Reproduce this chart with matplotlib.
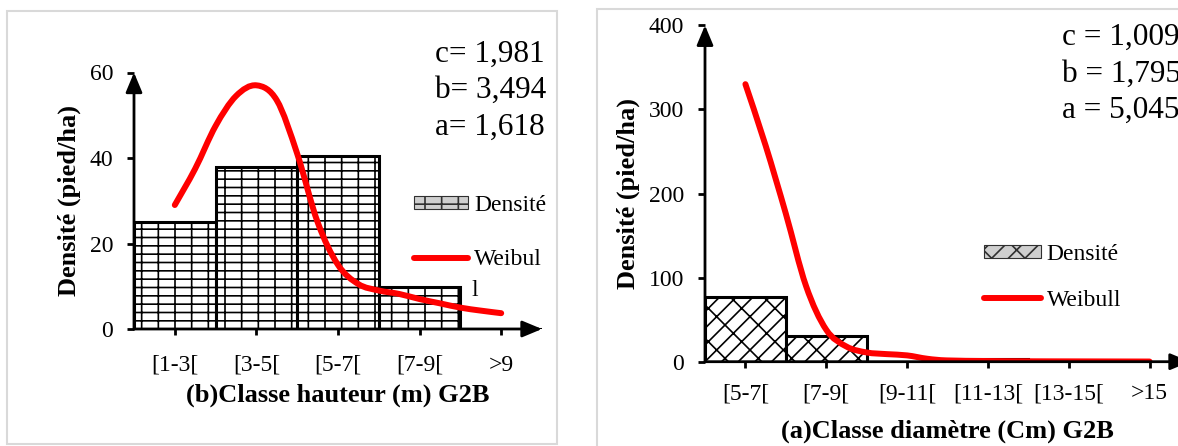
import matplotlib
matplotlib.use("Agg")
import matplotlib.pyplot as plt
import numpy as np
from matplotlib.path import Path
from matplotlib.patches import PathPatch, Rectangle, Patch
from matplotlib.lines import Line2D

# ---- data ----
# (b) height classes
hauteur_classes = ["[1-3[", "[3-5[", "[5-7[", "[7-9[", ">9"]
hauteur_densite = [25.0, 37.9, 40.4, 9.8, 0.0]
# Weibull curve (x in class positions)
hauteur_weibull_pos = [0, 0.25, 0.5, 0.75, 1.0, 1.25, 1.5, 1.75, 2.0, 2.25, 2.5, 2.75, 3.0, 3.25, 3.5, 3.75, 4.0]
hauteur_weibull_val = [29, 37.5, 47.5, 54.5, 57, 53.5, 41, 25, 15, 10.5, 9, 8.2, 7, 6, 5, 4.3, 3.7]
hauteur_params = ["c= 1,981", "b= 3,494", "a= 1,618"]

# (a) diameter classes
diametre_classes = ["[5-7[", "[7-9[", "[9-11[", "[11-13[", "[13-15[", ">15"]
diametre_densite = [77.3, 30.6, 0.0, 3.0, 0.0, 0.0]
diametre_weibull_pos = [0, 0.25, 0.5, 0.75, 1.0, 1.25, 1.5, 1.75, 2.0, 2.25, 2.5, 3.0, 3.5, 4.0, 4.5, 5.0]
diametre_weibull_val = [330, 257, 176, 90, 38, 18, 11, 9, 7.5, 3.5, 1.5, 0.8, 0.5, 0.4, 0.3, 0.2]
diametre_params = ["c = 1,009", "b = 1,795", "a = 5,045"]

W, H = 1178, 446
plt.rcParams["font.family"] = ["Liberation Serif", "DejaVu Serif"]
plt.rcParams["hatch.linewidth"] = 1.2

fig = plt.figure(figsize=(W / 100, H / 100), dpi=100)


def fx(x):
    return x / W


def fy(y):
    return 1 - y / H


def smooth_path(xs, ys):
    # Excel-like smoothed line (Catmull-Rom converted to cubic Bezier)
    pts = np.column_stack([xs, ys]).astype(float)
    verts = [pts[0]]
    codes = [Path.MOVETO]
    for i in range(len(pts) - 1):
        p0 = pts[i - 1] if i > 0 else pts[i]
        p1, p2 = pts[i], pts[i + 1]
        p3 = pts[i + 2] if i + 2 < len(pts) else pts[i + 1]
        verts += [p1 + (p2 - p0) / 6, p2 - (p3 - p1) / 6, p2]
        codes += [Path.CURVE4] * 3
    return Path(verts, codes)


def draw_panel(ax, classes, densite, wpos, wval, ymax, ystep, hatch, xlabel,
               xpad, ylpad, xlpad):
    x = np.arange(len(classes))
    ax.bar(x, densite, width=1.0, facecolor="white", edgecolor="black",
           linewidth=2.2, hatch=hatch, zorder=2)
    ax.add_patch(PathPatch(smooth_path(wpos, wval), fill=False, edgecolor="red",
                           linewidth=4.3, capstyle="round", zorder=3))
    ax.set_xlim(-0.5, len(classes) - 0.5)
    ax.set_ylim(0, ymax)
    ax.set_xticks(x)
    ax.set_xticklabels(classes)
    ax.set_yticks(np.arange(0, ymax + 1, ystep))
    for s in ax.spines.values():
        s.set_visible(False)
    ax.tick_params(axis="y", direction="out", length=5, width=2, pad=10, labelsize=17)
    ax.tick_params(axis="x", direction="out", length=4.5, width=2, pad=xpad, labelsize=17)
    arrow = dict(arrowstyle="-|>,head_length=1.2,head_width=0.5", lw=2, color="black",
                 shrinkA=0, shrinkB=0)
    ax.annotate("", xy=(0, 1), xytext=(0, 0), xycoords="axes fraction",
                arrowprops=arrow, annotation_clip=False)
    ax.annotate("", xy=(1, 0), xytext=(0, 0), xycoords="axes fraction",
                arrowprops=arrow, annotation_clip=False)
    ax.set_xlabel(xlabel, fontsize=19, fontweight="bold", labelpad=xlpad)
    ax.set_ylabel("Densité (pied/ha)", fontsize=19, fontweight="bold", labelpad=ylpad)
    ax.patch.set_alpha(0)


# panel frames
fig.patches.append(Rectangle((fx(7), fy(444)), fx(550), 433 / H, transform=fig.transFigure,
                             fill=False, edgecolor="#d9d9d9", linewidth=1.5))
fig.patches.append(Rectangle((fx(597), fy(449)), fx(590), 440 / H, transform=fig.transFigure,
                             fill=False, edgecolor="#d9d9d9", linewidth=1.5))

# (b) height panel
ax1 = fig.add_axes([fx(134), fy(329), fx(408), 256.5 / H])
draw_panel(ax1, hauteur_classes, hauteur_densite, hauteur_weibull_pos, hauteur_weibull_val,
           60, 20, "--|", "(b)Classe hauteur (m) G2B", 14, 6, 6)

# (a) diameter panel
ax2 = fig.add_axes([fx(705), fy(361.7), fx(485), 336.4 / H])
draw_panel(ax2, diametre_classes, diametre_densite, diametre_weibull_pos, diametre_weibull_val,
           400, 100, "//\\", "(a)Classe diamètre (Cm) G2B", 11, 6, 11)

# Weibull parameters
for txt, yb in zip(hauteur_params, [61.7, 98.3, 135]):
    fig.text(fx(435), fy(yb), txt, fontsize=22.5, va="baseline", ha="left")
for txt, yb in zip(diametre_params, [45, 81.7, 118.3]):
    fig.text(fx(1062), fy(yb), txt, fontsize=22.5, va="baseline", ha="left")

# legends
h_dens1 = Patch(facecolor="#cfcfcf", edgecolor="#303030", linewidth=0.8, hatch="--|")
h_dens2 = Patch(facecolor="#cfcfcf", edgecolor="#303030", linewidth=0.8, hatch="//\\")
h_weib = Line2D([], [], color="red", linewidth=4.3, solid_capstyle="round")

ax1.legend([h_dens1, h_weib], ["Densité", "Weibul"], loc="upper left",
           bbox_to_anchor=(fx(414), fy(195)), bbox_transform=fig.transFigure,
           frameon=False, fontsize=17, handlelength=2.3, handleheight=0.5,
           handletextpad=0.25, labelspacing=1.4, borderpad=0, borderaxespad=0)
fig.text(fx(471), fy(296), "l", fontsize=17, va="baseline", ha="left")

ax2.legend([h_dens2, h_weib], ["Densité", "Weibull"], loc="upper left",
           bbox_to_anchor=(fx(984), fy(244)), bbox_transform=fig.transFigure,
           frameon=False, fontsize=17, handlelength=2.4, handleheight=0.5,
           handletextpad=0.25, labelspacing=1.05, borderpad=0, borderaxespad=0)

fig.savefig("out.png", dpi=100)
